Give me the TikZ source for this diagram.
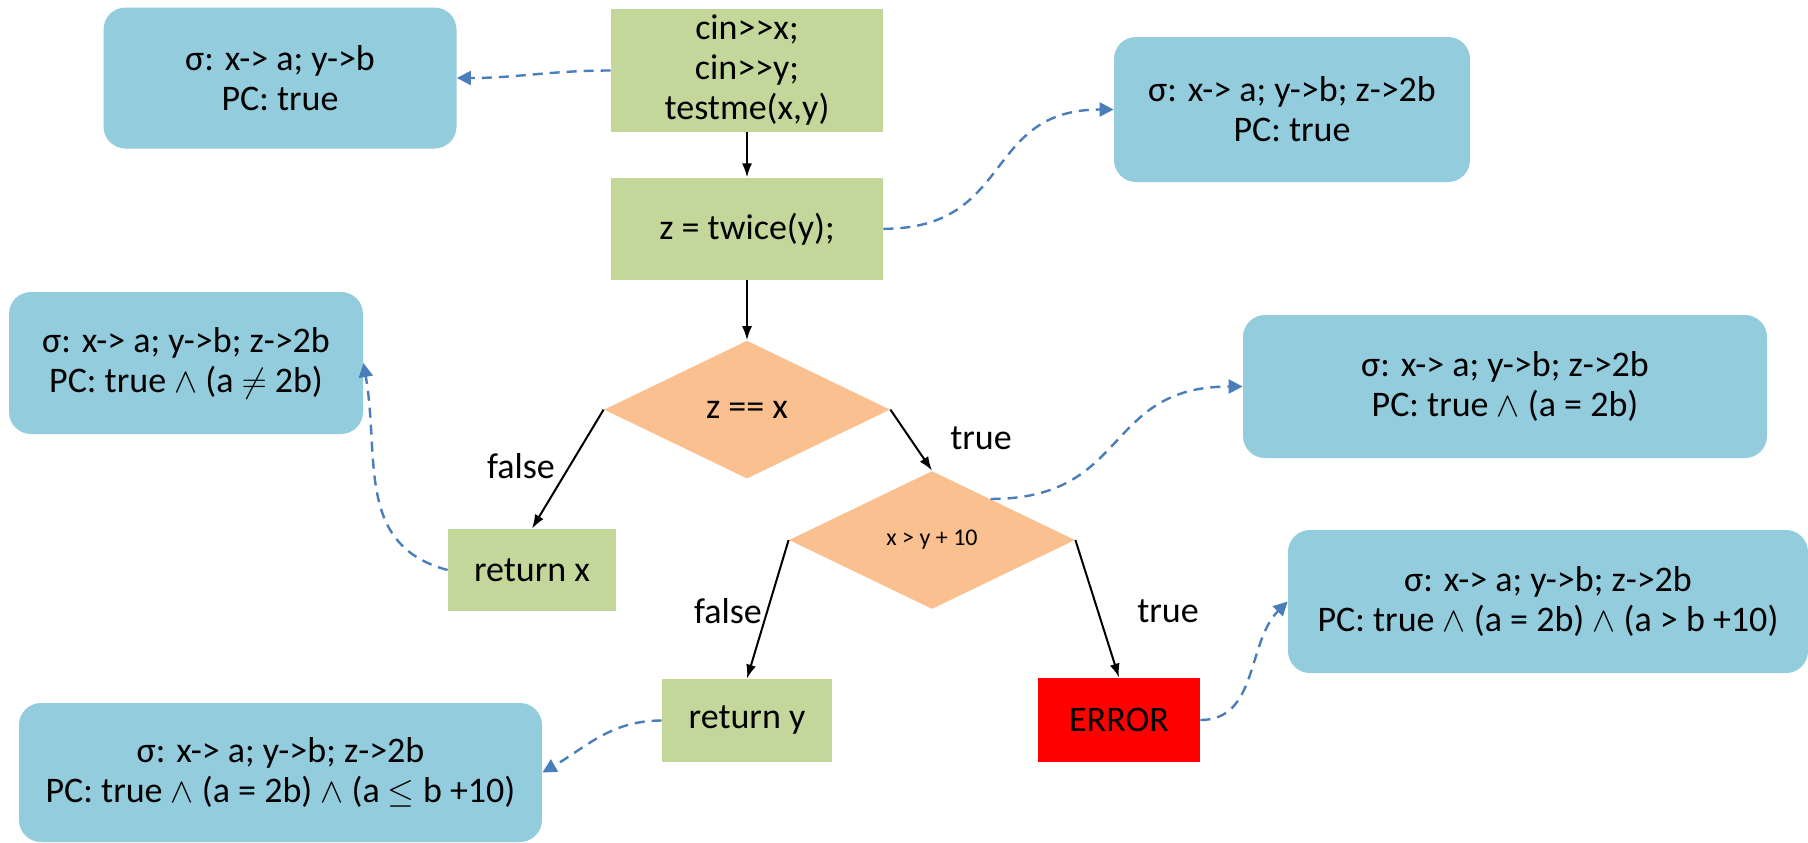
\documentclass[tikz,border=0pt]{standalone}
\usepackage{fontspec}
\setmainfont{Carlito}
\usetikzlibrary{shapes.geometric,arrows.meta,positioning}
\definecolor{stateblue}{HTML}{93CDDD}
\definecolor{stmtgreen}{HTML}{C4D79B}
\definecolor{condorange}{HTML}{FAC090}
\definecolor{linkblue}{HTML}{4A7EBB}

\begin{document}
\begin{tikzpicture}[x=0.5pt,y=0.5pt]
\tikzstyle{txt}=[font=\fontsize{18}{20}\selectfont]
\tikzstyle{state}=[txt, rectangle, rounded corners=11pt, fill=stateblue, align=center, inner sep=0pt]
\tikzstyle{stmt}=[txt, rectangle, fill=stmtgreen, align=center, inner sep=0pt]
\tikzstyle{cond}=[txt, diamond, aspect=2, fill=condorange, inner sep=0pt, minimum width=143pt, minimum height=69pt]
\tikzstyle{connect}=[-{Latex[length=7pt,width=5pt]}, line width=1pt]
\tikzstyle{sym}=[-{Triangle[length=7pt,width=7pt]}, linkblue, line width=1.2pt, dash pattern=on 5pt off 3.5pt]
\useasboundingbox (0,0) rectangle (1808,-842);
  % program
  \node[stmt, minimum width=136pt, minimum height=61.5pt] (cin) at (747,-70.5) {cin>{}>x;\\cin>{}>y;\\testme(x,y)};
  \node[stmt, minimum width=136pt, minimum height=51pt] (twice) [below=22.5pt of cin] {z = twice(y);};
  \node[cond] (d1) [below=30pt of twice] {z == x};
  \node[stmt, minimum width=84pt, minimum height=41pt] (retx) at (532,-570) {return x};
  \node[cond, font=\fontsize{12}{14}\selectfont] (d2) at (932,-540) {x > y + 10};
  \node[stmt, minimum width=85pt, minimum height=41.5pt] (rety) at (747,-720.5) {return y};
  \node[txt, rectangle, fill=red, minimum width=81pt, minimum height=42pt] (error) at (1119,-720) {ERROR};
  % symbolic states
  \node[state, minimum width=176.5pt, minimum height=70.5pt] (sA) at (280,-78) {σ: x-> a; y->b\\PC: true};
  \node[state, minimum width=178pt, minimum height=72.5pt] (sB) at (1292,-109.5) {σ: x-> a; y->b; z->2b\\PC: true};
  \node[state, minimum width=177pt, minimum height=71pt] (sC) at (186,-363) {σ: x-> a; y->b; z->2b\\PC: true $\wedge$ (a $\neq$ 2b)};
  \node[state, minimum width=262pt, minimum height=71.5pt] (sD) at (1505,-386.5) {σ: x-> a; y->b; z->2b\\PC: true $\wedge$ (a = 2b)};
  \node[state, minimum width=260pt, minimum height=71.5pt] (sE) at (1548,-601.5) {σ: x-> a; y->b; z->2b\\PC: true $\wedge$ (a = 2b) $\wedge$ (a > b +10)};
  \node[state, minimum width=261.5pt, minimum height=69.5pt] (sF) at (280.5,-772.5) {σ: x-> a; y->b; z->2b\\PC: true $\wedge$ (a = 2b) $\wedge$ (a $\leq$ b +10)};
  % branch labels
  \node[txt] (f1) at (521,-466) {false};
  \node[txt] (t1) at (981,-438) {true};
  \node[txt] (f2) at (728,-611) {false};
  \node[txt] (t2) at (1168,-611) {true};
  \path (cin) edge [connect] (twice)
        (twice) edge [connect] (d1)
        (d1.west) edge [connect] (retx.north)
        (d1.east) edge [connect] (d2.north)
        (d2.west) edge [connect] (rety.north)
        (d2.east) edge [connect] (error.north);
  \draw[sym] (cin.west) to[out=180,in=0] (sA.east);
  \draw[sym] (twice.east) to[out=0,in=180,looseness=1.3] (sB.west);
  \draw[sym] (retx.west) to[out=165,in=-80,looseness=1.1] (sC.east);
  \draw[sym] (d2.35) to[out=0,in=180,looseness=1.3] (sD.west);
  \draw[sym] (error.east) to[out=0,in=-135] (sE.west);
  \draw[sym] (rety.west) to[out=180,in=30] (sF.east);
\end{tikzpicture}
\end{document}
